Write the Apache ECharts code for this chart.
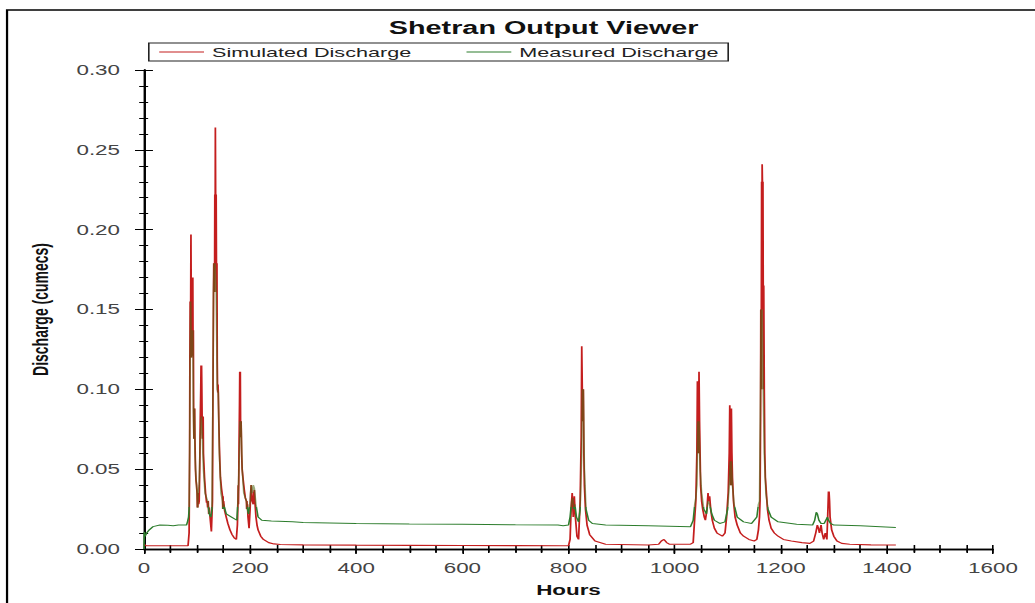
<!DOCTYPE html>
<html>
<head>
<meta charset="utf-8">
<script src="https://cdn.jsdelivr.net/npm/echarts@6/dist/echarts.min.js"></script>
<style>
  html, body { margin: 0; padding: 0; background: #fff; width: 1035px; height: 603px; overflow: hidden; }
  /* the viewer output is drawn at a narrow width and widened 1.6x, like the exported figure */
  #wrap { position: absolute; left: 0; top: 0; width: 647px; height: 603px; transform: scaleX(1.6); transform-origin: 0 0; }
  #chart { width: 647px; height: 603px; }
</style>
</head>
<body>
<div id="wrap"><div id="chart"></div></div>
<script>
// ---- chart text ----
const chartTitle = 'Shetran Output Viewer';
const seriesNames = ['Simulated Discharge', 'Measured Discharge'];
const xAxisTitle = 'Hours';
const yAxisTitle = 'Discharge (cumecs)';

// ---- axis ticks ----
const xTickValues = [0, 200, 400, 600, 800, 1000, 1200, 1400, 1600];
const yTickValues = [0.00, 0.05, 0.10, 0.15, 0.20, 0.25, 0.30];

// ---- simulated discharge, [hour, cumecs] ----
const simulated = [
  [0,0.003],[4,0.002],[83,0.002],[85,0.01],[86,0.06],
  [86.5,0.12],[87,0.155],[87.5,0.12],[88,0.155],[88.5,0.197],[89,0.155],[89.5,0.12],[90,0.155],
  [90.5,0.137],[91,0.17],[91.5,0.121],[92,0.17],[92.5,0.121],[93,0.137],[93.5,0.088],[94,0.069],
  [94.5,0.088],[95,0.069],[95.5,0.088],[96,0.069],[97,0.05],[98,0.043],[99,0.04],[100,0.035],
  [100.5,0.026],[101,0.035],[101.5,0.026],[102,0.035],[103,0.028],[104,0.03],[105,0.05],[106,0.08],
  [107,0.1],[107.5,0.115],[108,0.1],[108.5,0.115],[109,0.1],[109.5,0.083],[110,0.069],[110.5,0.083],
  [111,0.069],[111.5,0.083],[112,0.06],[114,0.045],[116,0.035],[118,0.029],[119,0.03],[120,0.026],
  [121,0.03],[122,0.022],[123,0.026],[124,0.022],[125,0.018],[127,0.011],[128,0.011],[129,0.03],
  [130,0.1],[131,0.161],[131.5,0.179],[132,0.161],[132.5,0.179],[133,0.161],[133.5,0.222],[134,0.179],
  [134.5,0.264],[135,0.222],[135.5,0.179],[136,0.222],[136.5,0.179],[137,0.161],[137.5,0.179],
  [138,0.118],[138.5,0.103],[139,0.098],[139.5,0.103],[140,0.098],[141,0.08],[142,0.065],[143,0.054],
  [144,0.045],[146,0.038],[148,0.033],[148.5,0.025],[149,0.033],[149.5,0.025],[150,0.03],[152,0.024],
  [155,0.02],[158,0.016],[162,0.012],[166,0.009],[170,0.007],[174,0.006],
  [176,0.015],[177,0.028],[177.5,0.04],[178,0.028],[178.5,0.04],[179,0.06],[180,0.09],[180.5,0.111],
  [181,0.09],[181.5,0.111],[182,0.08],[182.5,0.07],[183,0.08],[183.5,0.07],[184,0.06],[185,0.05],
  [187,0.043],[189,0.037],[191,0.032],[193,0.03],[193.5,0.025],[194,0.03],[194.5,0.025],[195,0.028],
  [196,0.02],[198,0.013],[200,0.025],[201,0.035],[202,0.04],[203,0.035],[204,0.03],[206,0.028],
  [207,0.035],[208,0.037],[209,0.03],[211,0.02],[213,0.015],[215,0.012],[220,0.008],[225,0.006],
  [235,0.004],[245,0.0032],[257,0.0028],[300,0.0026],[400,0.0024],[500,0.0023],[600,0.0022],
  [700,0.0021],[790,0.002],
  [800,0.002],[803,0.006],[805,0.025],[807,0.035],[809,0.02],[811,0.033],[813,0.02],[816,0.008],
  [819,0.006],[822,0.03],[824,0.07],[825,0.127],[826,0.1],[826.5,0.08],[827,0.1],[827.5,0.08],
  [828,0.1],[829,0.06],[830,0.04],[832,0.025],[835,0.015],[840,0.009],[850,0.005],[870,0.003],
  [950,0.0025],[970,0.003],[975,0.005],[980,0.006],[985,0.004],[990,0.003],[1030,0.003],
  [1035,0.004],[1038,0.02],[1040,0.03],[1042,0.06],[1043,0.105],[1044,0.08],[1044.5,0.06],
  [1045,0.08],[1045.5,0.06],[1046,0.111],[1047,0.08],[1048,0.06],[1049,0.04],[1051,0.03],
  [1053,0.025],[1056,0.02],[1058,0.018],[1061,0.025],[1063,0.035],[1064,0.03],[1066,0.033],
  [1068,0.025],[1071,0.018],[1075,0.013],[1080,0.01],[1085,0.009],[1090,0.008],
  [1095,0.01],[1098,0.02],[1101,0.035],[1103,0.06],[1104,0.09],[1105,0.055],[1105.5,0.04],
  [1106,0.055],[1106.5,0.04],[1107,0.088],[1108,0.06],[1109,0.045],[1111,0.03],[1114,0.02],
  [1118,0.015],[1124,0.01],[1130,0.008],[1140,0.006],[1150,0.005],
  [1155,0.006],[1158,0.012],[1160,0.02],[1161,0.03],[1162,0.08],[1162.5,0.15],[1163,0.1],
  [1163.5,0.15],[1164,0.23],[1164.5,0.15],[1165,0.241],[1165.5,0.23],[1166,0.15],[1166.5,0.23],
  [1167,0.165],[1167.5,0.1],[1168,0.165],[1169,0.1],[1170,0.06],[1171,0.045],[1173,0.035],
  [1175,0.025],[1178,0.018],[1182,0.013],[1188,0.01],[1195,0.008],[1205,0.006],[1220,0.005],
  [1240,0.004],[1255,0.0035],
  [1262,0.005],[1266,0.01],[1269,0.015],[1271,0.013],[1273,0.01],[1276,0.015],[1278,0.01],
  [1281,0.006],[1284,0.01],[1287,0.006],[1289,0.025],[1290,0.036],[1290.5,0.028],[1291,0.036],
  [1292,0.03],[1293,0.02],[1296,0.012],[1300,0.008],[1306,0.005],[1315,0.0035],[1330,0.003],
  [1370,0.0026],[1417,0.0025]
];

// ---- measured discharge, [hour, cumecs] ----
const measured = [
  [0,0.0],[0.5,0.0107],[2,0.008],[5,0.01],[10,0.012],[17,0.014],[30,0.015],[45,0.0148],[55,0.0145],
  [65,0.015],[80,0.015],[82,0.017],[84,0.02],[85,0.025],
  [86,0.06],[87,0.12],[88,0.155],[89,0.12],[90,0.137],[91,0.121],[92,0.137],[93,0.088],[94,0.069],
  [95,0.088],[96,0.06],[98,0.045],[100,0.035],[101,0.026],[102,0.035],[104,0.04],[106,0.07],
  [108,0.083],[110,0.069],[112,0.05],[115,0.035],[120,0.03],[123,0.022],[126,0.02],[128,0.025],
  [130,0.1],[131,0.161],[132,0.179],[133,0.161],[134,0.179],[136,0.161],[138,0.1],[140,0.098],
  [142,0.06],[145,0.035],[148,0.03],[149,0.025],[150,0.028],[155,0.022],[165,0.02],[175,0.018],
  [177,0.03],[179,0.05],[181,0.08],[182,0.07],[183,0.08],[185,0.05],[188,0.035],[193,0.03],
  [195,0.025],[197,0.022],[200,0.03],[202,0.04],[204,0.035],[206,0.04],[208,0.038],[211,0.028],
  [215,0.02],[222,0.018],[240,0.0175],[280,0.017],[300,0.0166],[400,0.016],[500,0.0157],
  [600,0.0155],[700,0.0152],[780,0.015],[790,0.0145],[800,0.015],
  [803,0.02],[806,0.03],[808,0.032],[810,0.025],[812,0.028],[815,0.02],[819,0.017],[822,0.025],
  [825,0.06],[826,0.1],[827,0.08],[828,0.1],[830,0.05],[833,0.025],[838,0.018],[845,0.016],
  [870,0.015],[950,0.0145],[1030,0.014],
  [1035,0.018],[1038,0.028],[1040,0.032],[1042,0.04],[1044,0.08],[1045,0.06],[1046,0.08],
  [1048,0.05],[1051,0.035],[1055,0.025],[1060,0.022],[1063,0.03],[1066,0.028],[1070,0.022],
  [1075,0.018],[1085,0.016],[1095,0.017],
  [1100,0.025],[1103,0.04],[1105,0.055],[1106,0.04],[1107,0.055],[1109,0.04],[1112,0.028],
  [1118,0.02],[1130,0.017],[1145,0.016],
  [1155,0.02],[1158,0.028],[1160,0.03],[1162,0.1],[1163,0.15],[1164,0.1],[1165,0.15],[1167,0.1],
  [1169,0.06],[1172,0.035],[1176,0.025],[1182,0.02],[1195,0.017],[1230,0.0155],[1260,0.015],
  [1264,0.018],[1267,0.023],[1269,0.022],[1272,0.018],[1276,0.016],[1282,0.016],[1288,0.02],
  [1290,0.018],[1294,0.016],[1300,0.015],[1350,0.0145],[1417,0.0135]
];

const FONT = '"Liberation Sans", Arial, sans-serif';
const xMin = xTickValues[0], xMax = xTickValues[xTickValues.length - 1];
const xStep = xTickValues[1] - xTickValues[0];
const yMin = yTickValues[0], yMax = yTickValues[yTickValues.length - 1];
const yStep = yTickValues[1] - yTickValues[0];

// plot rectangle (in the narrow drawing coordinates)
const gridRect = { left: 90, right: 26.4, top: 70, bottom: 54 };

const xBase = { type: 'value', min: xMin, max: xMax, interval: xStep, splitLine: { show: false } };
const yBase = { type: 'value', min: yMin, max: yMax, interval: yStep, splitLine: { show: false } };
const blackLine = { color: '#000', width: 1.3 };
const tickLine = { color: '#000', width: 1 };
const GREEN = '#2d7d2d';
const RED = '#c41e1e';

const chart = echarts.init(document.getElementById('chart'), null, { renderer: 'svg' });
chart.setOption({
  animation: false,
  backgroundColor: '#fff',
  title: {
    text: chartTitle, left: 243, top: 19, padding: 0,
    textStyle: { fontFamily: FONT, fontSize: 18, fontWeight: 'bold', color: '#111' }
  },
  legend: {
    data: [
      { name: seriesNames[0], lineStyle: { color: RED, width: 1 }, itemStyle: { opacity: 0 } },
      { name: seriesNames[1], lineStyle: { color: GREEN, width: 1 }, itemStyle: { opacity: 0 } }
    ],
    left: 93, top: 43, padding: [2, 6], itemGap: 34,
    itemWidth: 28, itemHeight: 14, borderColor: '#222', borderWidth: 1, borderRadius: 0,
    textStyle: { fontFamily: FONT, fontSize: 13.5, color: '#222' }
  },
  grid: [
    Object.assign({ containLabel: false }, gridRect),
    Object.assign({ containLabel: false }, gridRect)
  ],
  xAxis: [
    Object.assign({}, xBase, {
      gridIndex: 0, position: 'bottom',
      axisLine: { lineStyle: blackLine },
      axisTick: { length: 4, lineStyle: tickLine },
      minorTick: { show: true, splitNumber: 4, length: 4, lineStyle: tickLine },
      axisLabel: { margin: 12, fontFamily: FONT, fontSize: 14, color: '#444',
                   formatter: v => String(v) },
      name: xAxisTitle, nameLocation: 'middle', nameGap: 34,
      nameTextStyle: { fontFamily: FONT, fontSize: 14, fontWeight: 'bold', color: '#111' }
    }),
    Object.assign({}, xBase, {
      gridIndex: 1, position: 'bottom',
      axisLine: { show: false },
      axisTick: { inside: true, length: 4, lineStyle: tickLine },
      minorTick: { show: true, splitNumber: 4, length: 4, lineStyle: tickLine },
      axisLabel: { show: false }
    }),
    Object.assign({}, xBase, {
      gridIndex: 1, position: 'top',
      axisLine: { lineStyle: blackLine },
      axisTick: { inside: true, length: 5, lineStyle: tickLine },
      minorTick: { show: true, splitNumber: 4, length: 3, lineStyle: tickLine },
      axisLabel: { show: false }
    })
  ],
  yAxis: [
    Object.assign({}, yBase, {
      gridIndex: 0, position: 'left',
      axisLine: { lineStyle: blackLine },
      axisTick: { length: 5.6, lineStyle: tickLine },
      minorTick: { show: true, splitNumber: 5, length: 2.6, lineStyle: tickLine },
      axisLabel: { margin: 15, fontFamily: FONT, fontSize: 14, color: '#444',
                   formatter: v => v.toFixed(2) },
      name: yAxisTitle, nameLocation: 'middle', nameGap: 58, nameRotate: 90,
      nameTextStyle: { fontFamily: FONT, fontSize: 14, fontWeight: 'bold', color: '#111' }
    }),
    Object.assign({}, yBase, {
      gridIndex: 1, position: 'left',
      axisLine: { show: false },
      axisTick: { inside: true, length: 5.6, lineStyle: tickLine },
      minorTick: { show: true, splitNumber: 5, length: 2.6, lineStyle: tickLine },
      axisLabel: { show: false }
    }),
    Object.assign({}, yBase, {
      gridIndex: 1, position: 'right',
      axisLine: { lineStyle: blackLine },
      axisTick: { inside: true, length: 5.6, lineStyle: tickLine },
      minorTick: { show: true, splitNumber: 5, length: 3, lineStyle: tickLine },
      axisLabel: { show: false }
    })
  ],
  series: [
    {
      name: seriesNames[0], type: 'line', xAxisIndex: 0, yAxisIndex: 0,
      data: simulated, symbol: 'none', z: 2,
      itemStyle: { color: RED },
      lineStyle: { color: RED, width: 1.1 }
    },
    {
      name: seriesNames[1], type: 'line', xAxisIndex: 0, yAxisIndex: 0,
      data: measured, symbol: 'none', z: 3,
      itemStyle: { color: GREEN },
      lineStyle: { color: GREEN, width: 1 }
    }
  ],
  graphic: [
    {
      type: 'rect', silent: true, z: 0,
      shape: { x: 4.4, y: 10, width: 800, height: 800 },
      style: { fill: 'none', stroke: '#000', lineWidth: 1.4 }
    }
  ]
});

// The measured trace is laid over the simulated one; above the storm threshold
// it turns translucent so the overlapping peaks read brown.
const threshold = 0.026;
const yCut = chart.convertToPixel({ yAxisIndex: 0 }, threshold);
const H = 603;
const cut = Math.min(Math.max(yCut / H, 0), 1);
chart.setOption({
  series: [{}, {
    lineStyle: {
      color: new echarts.graphic.LinearGradient(0, 0, 0, H, [
        { offset: 0, color: 'rgba(70,105,20,0.55)' },
        { offset: cut, color: 'rgba(70,105,20,0.55)' },
        { offset: cut, color: GREEN },
        { offset: 1, color: GREEN }
      ], true)
    }
  }]
});
</script>
</body>
</html>
